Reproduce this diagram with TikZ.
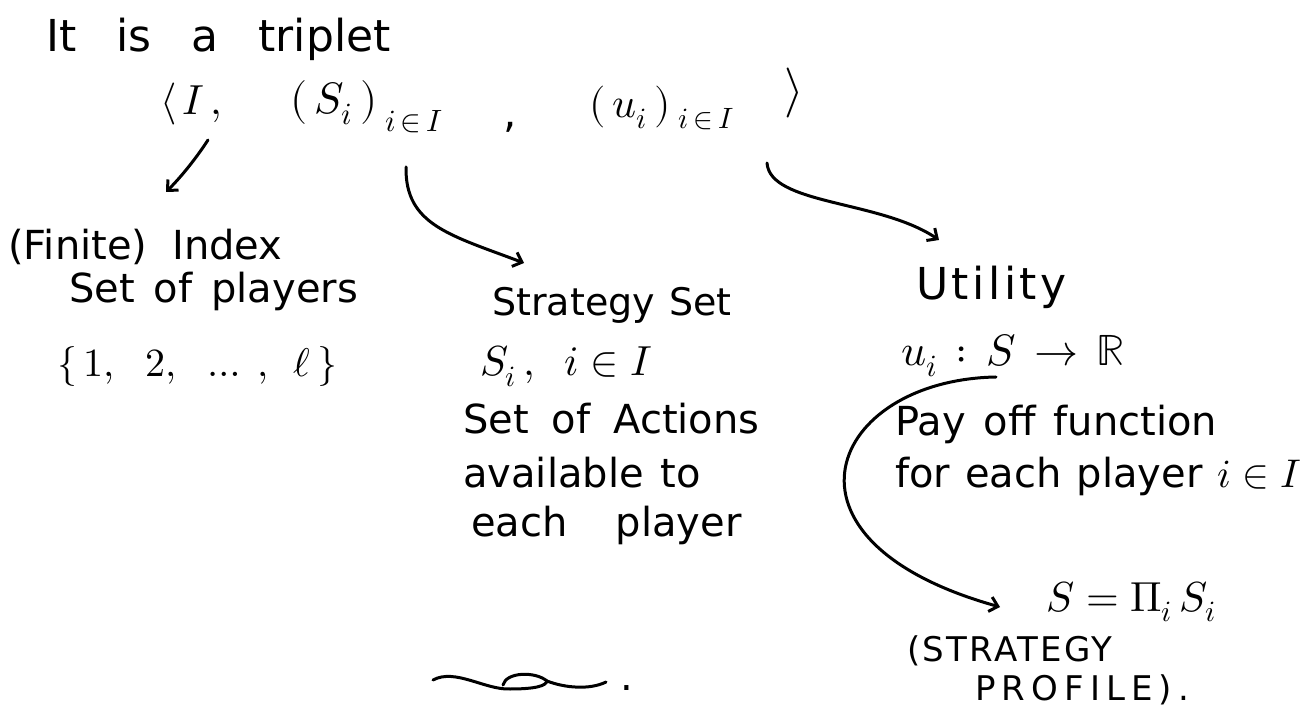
\documentclass[tikz,border=0pt]{standalone}
\usepackage{fontspec}
\usepackage{unicode-math}
\setmainfont{DejaVu Sans}
\setmathfont{Latin Modern Math}
\usetikzlibrary{arrows.meta,calc}
\newcommand\wsp[1]{\spaceskip=#1\relax}
\tikzset{
  hw/.style={inner sep=0pt, anchor=base west, font=\fontsize{40}{48}\selectfont},
  hwl/.style={hw, font=\fontsize{44}{52}\selectfont},
  hwm/.style={hw, font=\fontsize{42}{50}\selectfont},
  hwc/.style={hw, font=\fontsize{34}{40}\selectfont},
  pen/.style={line width=3pt, line cap=round, line join=round},
  arr/.style={pen, -{Straight Barb[length=8pt,width=15pt,line width=3pt]}}
}
\begin{document}
\begin{tikzpicture}[x=1pt,y=-1pt]
\useasboundingbox[fill=white] (0,0) rectangle (1315,708);

% title and triplet
\node[hwl] (t1) at (46,52) {\wsp{40pt}It is a triplet};
\node[hwm] (tI) at (160,115) {$\langle\hspace{6pt}I\hspace{6pt},$};
\node[hwl] (tS) at (290,114) {$(\,S_i\,)_{\raisebox{-7pt}{$\scriptstyle\hspace{8pt}i\,\in\,I$}}$};
\node[hwm] (tC) at (503,128) {,};
\node[hwm] (tU) at (589,118) {$(\,u_i\,)_{\hspace{8pt}i\,\in\,I}$};
\node[hw, font=\fontsize{50}{56}\selectfont] (tR) at (784,106) {$\rangle$};

% left column
\node[hw] (fin) at (8,260) {\wsp{25pt}(Finite) Index};
\node[hw] (pl) at (69,303) {\wsp{19pt}Set of players};
\node[hw] (set) at (57,377) {$\{\,1,\hspace{24pt}2,\hspace{24pt}\ldots\hspace{10pt},\hspace{18pt}\ell\,\}$};

% middle column
\node[hw, font=\fontsize{38}{46}\selectfont] (strat) at (492,316) {\wsp{14pt}Strategy Set};
\node[hwm] (si) at (480,376) {$S_i\,,\hspace{22pt}i\in I$};
\node[hw] (act) at (463,434) {\wsp{23pt}Set of Actions};
\node[hw] (av) at (463,487) {\wsp{17pt}available to};
\node[hw] (ea) at (471,536) {\wsp{48pt}each player};

% right column
\node[hwl] (util) at (916,300) {\addfontfeatures{LetterSpace=8}Utility};
\node[hwl] (uS) at (901,366) {$u_i\hspace{6pt}:\hspace{6pt}S\hspace{6pt}\to\hspace{6pt}\mathbb{R}$};
\node[hw] (pay) at (895,436) {\wsp{18pt}Pay off function};
\node[hw] (for) at (895,487) {\wsp{15pt}for each player $i\in I$};
\node[hwm] (prof) at (1046,611) {$S = \Pi_i\, S_i$};
\node[hwc] (st) at (907,661) {\addfontfeatures{LetterSpace=7}(STRATEGY};
\node[hwc] (pr) at (975,700) {\addfontfeatures{LetterSpace=18}PROFILE).};

% connectors
\draw[arr] ($(tI.base west)+(48,25)$) .. controls +(-13,20) and +(14,-14) .. ($(fin.base west)+(158,-68)$);
\draw[arr] ($(tS.base west)+(116,53)$) .. controls +(-1,58) and +(-74,-28) .. ($(strat.base west)+(32,-53)$);
\draw[arr] ($(tR.base west)+(-17,57)$) .. controls +(3,42) and +(-59,-40) .. ($(util.base west)+(23,-60)$);
\draw[arr] ($(uS.base west)+(95,11)$) .. controls +(-166,3) and +(-240,-67) .. ($(prof.base west)+(-46,-4)$);

% closing squiggle
\draw[pen] (433,680) .. controls (455,668) and (485,690) .. (510,689)
  .. controls (535,689) and (546,686) .. (547,681)
  .. controls (535,671) and (506,672) .. (503,685);
\draw[pen] (547,681) .. controls (565,688) and (590,690) .. (606,682);
\node[hw] (dot) at (620,690) {.};
\end{tikzpicture}
\end{document}
